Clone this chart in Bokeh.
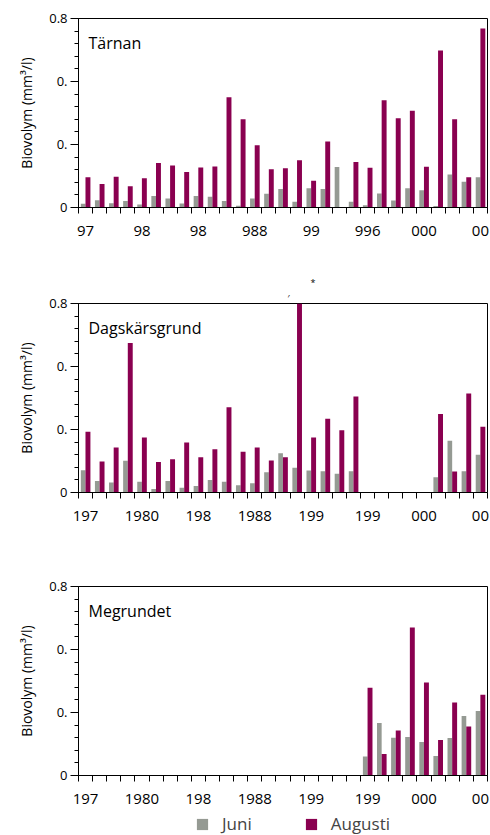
import math
from bokeh.plotting import figure
from bokeh.models import FixedTicker, Label, Legend, LegendItem, Range1d, ColumnDataSource, Title
from bokeh.layouts import column
from bokeh.embed import file_html
from bokeh.resources import INLINE

# ---------------- data ----------------
years = list(range(1976, 2005))
tick_years = [1976, 1980, 1984, 1988, 1992, 1996, 2000, 2004]
tick_labels_tarnan = ["97", "98", "98", "988", "99", "996", "000", "00"]
tick_labels_other = ["197", "1980", "198", "1988", "199", "199", "000", "00"]
y_ticks = [0, 0.8 / 3, 1.6 / 3, 0.8]
y_tick_labels = ["0", "0.", "0.", "0.8"]

N = None
tarnan_juni = [0.016, 0.031, 0.018, 0.027, 0.013, 0.049, 0.038, 0.017, 0.049, 0.045,
               0.028, 0.007, 0.038, 0.058, 0.078, 0.024, 0.082, 0.078, 0.171, 0.024,
               0.010, 0.059, 0.030, 0.082, 0.073, 0.006, 0.140, 0.109, 0.128]
tarnan_aug = [0.128, 0.100, 0.130, 0.090, 0.124, 0.188, 0.178, 0.150, 0.169, 0.174,
              0.467, 0.374, 0.264, 0.162, 0.166, 0.200, 0.113, 0.279, N, 0.193,
              0.168, 0.454, 0.378, 0.409, 0.172, 0.665, 0.374, 0.128, 0.758]
dags_juni = [0.094, 0.049, 0.042, 0.134, 0.045, 0.015, 0.049, 0.020, 0.028, 0.053,
             0.046, 0.031, 0.039, 0.086, 0.166, 0.105, 0.093, 0.090, 0.079, 0.090,
             N, N, N, N, N, 0.065, 0.219, 0.090, 0.160]
dags_aug = [0.257, 0.131, 0.190, 0.633, 0.233, 0.129, 0.141, 0.212, 0.149, 0.183,
            0.361, 0.172, 0.191, 0.135, 0.149, 0.950, 0.233, 0.312, 0.263, 0.406,
            N, N, N, N, N, 0.332, 0.089, 0.419, 0.278]
meg_juni = [N, N, N, N, N, N, N, N, N, N,
            N, N, N, N, N, N, N, N, N, N,
            0.080, 0.222, 0.160, 0.163, 0.142, 0.083, 0.159, 0.252, 0.273]
meg_aug = [N, N, N, N, N, N, N, N, N, N,
           N, N, N, N, N, N, N, N, N, N,
           0.371, 0.091, 0.191, 0.626, 0.394, 0.150, 0.309, 0.207, 0.342]
legend_labels = ["Juni", "Augusti"]

GRAY = "#959a93"
MAROON = "#8a0050"
FONT = "Open Sans"
FRAME_H = 189


def clean(v):
    return [float("nan") if a is None else a for a in v]


def make_source(juni, aug):
    return ColumnDataSource(dict(
        xg=[y - 0.17 for y in years], xa=[y + 0.17 for y in years],
        juni=clean(juni), aug=clean(aug)))


def make_panel(name, juni, aug, xlabels, top, bottom):
    p = figure(width=490, height=top + FRAME_H + bottom,
               x_range=Range1d(1975.5, 2004.5), y_range=Range1d(0, 0.8),
               output_backend="svg", toolbar_location=None,
               min_border_left=78, min_border_right=3,
               min_border_top=top, min_border_bottom=bottom)
    src = make_source(juni, aug)
    p.vbar(x="xg", top="juni", width=0.33, bottom=0, source=src,
           fill_color=GRAY, line_color=None)
    p.vbar(x="xa", top="aug", width=0.35, bottom=0, source=src,
           fill_color=MAROON, line_color=None)
    p.grid.visible = False
    p.outline_line_color = "black"
    p.outline_line_alpha = 1.0
    p.background_fill_color = "white"
    p.border_fill_color = "white"

    xa = p.xaxis[0]
    xa.ticker = FixedTicker(ticks=tick_years,
                            minor_ticks=[y - 0.5 for y in years] + [years[-1] + 0.5])
    xa.major_label_overrides = dict(zip(tick_years, xlabels))
    xa.major_tick_out = 0
    xa.major_tick_in = 0
    xa.minor_tick_out = 6
    xa.minor_tick_in = 0
    xa.major_label_standoff = 12
    xa.major_label_text_font = FONT
    xa.major_label_text_font_size = "15px"
    xa.major_label_text_color = "black"
    xa.axis_line_color = "black"
    xa.minor_tick_line_color = "black"

    ya = p.yaxis[0]
    ya.ticker = FixedTicker(ticks=y_ticks, minor_ticks=[k * 0.8 / 15 for k in range(16)])
    ya.major_label_overrides = dict(zip(y_ticks, y_tick_labels))
    ya.major_tick_out = 8
    ya.major_tick_in = 0
    ya.minor_tick_out = 4
    ya.minor_tick_in = 0
    ya.major_label_standoff = 3
    ya.major_label_text_font = FONT
    ya.major_label_text_font_size = "13px"
    ya.major_label_text_color = "black"
    ya.axis_label = "Biovolym (mm³/l)"
    ya.axis_label_text_font = FONT
    ya.axis_label_text_font_size = "14px"
    ya.axis_label_text_font_style = "normal"
    ya.axis_label_text_color = "black"
    ya.axis_label_standoff = 10
    ya.axis_line_color = "black"

    p.add_layout(Label(x=10, y=FRAME_H - 24, x_units="screen", y_units="screen",
                       text=name, text_font=FONT, text_font_size="16px",
                       text_baseline="alphabetic", text_color="black"))
    return p


p1 = make_panel("Tärnan", tarnan_juni, tarnan_aug, tick_labels_tarnan, 18, 40)
p2 = make_panel("Dagskärsgrund", dags_juni, dags_aug, tick_labels_other, 56, 40)
# small marks above the clipped 1991 bar
p2.add_layout(Title(text="′", align="left", offset=209, standoff=-2, text_font=FONT,
                    text_font_size="9px", text_font_style="normal", text_color="black"),
              "above")
p2.add_layout(Title(text="*", align="left", offset=232, standoff=3, text_font=FONT,
                    text_font_size="9px", text_font_style="normal", text_color="black"),
              "above")
p3 = make_panel("Megrundet", meg_juni, meg_aug, tick_labels_other, 54, 33)

# legend strip (renderers hidden, legend only)
p4 = figure(width=490, height=27, output_backend="svg", toolbar_location=None,
            x_range=Range1d(1975.5, 2004.5), y_range=Range1d(0, 0.8),
            min_border_left=0, min_border_right=0, min_border_top=0, min_border_bottom=0)
p4.axis.visible = False
p4.grid.visible = False
p4.outline_line_color = None
src4 = make_source(meg_juni, meg_aug)
rg = p4.vbar(x="xg", top="juni", width=0.33, source=src4, fill_color=GRAY, line_color=None,
             visible=False)
ra = p4.vbar(x="xa", top="aug", width=0.35, source=src4, fill_color=MAROON, line_color=None,
             visible=False)
lg = Legend(items=[LegendItem(label=legend_labels[0], renderers=[rg]),
                   LegendItem(label=legend_labels[1], renderers=[ra])],
            orientation="horizontal", location=(117, 0),
            glyph_width=14, glyph_height=14, label_standoff=13,
            spacing=52, padding=0, margin=0,
            label_text_font=FONT, label_text_font_size="17px",
            label_height=14, border_line_color=None,
            background_fill_alpha=0)
p4.add_layout(lg)

layout = column(p1, p2, p3, p4, spacing=0)
open("out.html", "w").write(file_html(layout, INLINE))
